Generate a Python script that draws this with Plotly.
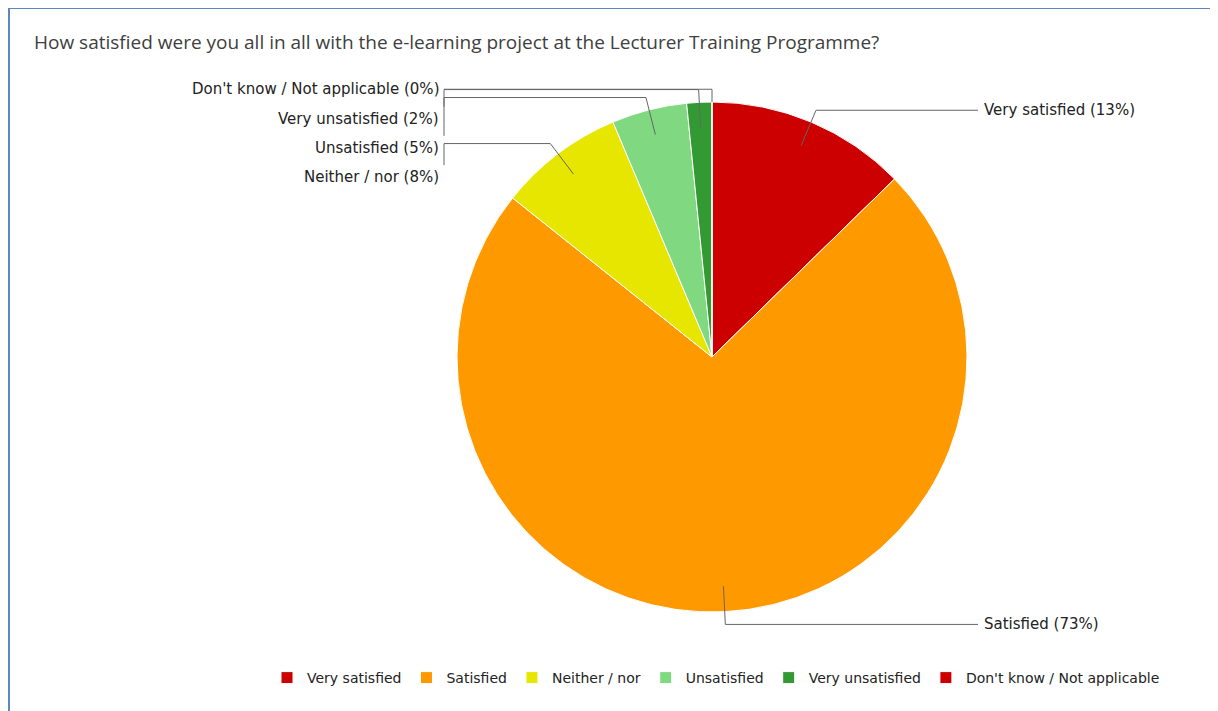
import math
import plotly.graph_objects as go

# ---- data ----
categories = ["Very satisfied", "Satisfied", "Neither / nor", "Unsatisfied",
              "Very unsatisfied", "Don't know / Not applicable"]
counts = [8, 46, 5, 3, 1, 0]
colors = ["#CC0000", "#FF9900", "#E6E600", "#80D980", "#339933", "#CC0000"]
title_text = "How satisfied were you all in all with the e-learning project at the Lecturer Training Programme?"

# ---- layout constants (page pixels) ----
OFF = 8                     # default body margin of the html page
W, H = 1218 - OFF, 711 - OFF
CX, CY, R = 712, 357, 255
LABEL_FONT = dict(family="DejaVu Sans", size=15, color="#222222")
LINE = dict(color="#666666", width=1)

total = sum(counts)

fig = go.Figure()
fig.add_trace(go.Pie(
    labels=categories, values=counts, sort=False, direction="clockwise", rotation=0,
    marker=dict(colors=colors, line=dict(color="white", width=1)),
    textinfo="none", hoverinfo="label+percent",
    domain=dict(x=[(CX - R - OFF) / W, (CX + R - OFF) / W],
                y=[1 - (CY + R - OFF) / H, 1 - (CY - R - OFF) / H]),
    showlegend=True,
))

shapes = []
annotations = []

# frame
shapes.append(dict(type="rect", xref="x", yref="y", x0=9, y0=8, x1=W + 40, y1=H + 40,
                   line=dict(color="#5B87C5", width=2), fillcolor="rgba(0,0,0,0)", layer="below"))

# leader lines & labels
cum = 0
right, left = [], []
for name, v in zip(categories, counts):
    frac_mid = (cum + v / 2) / total
    cum += v
    th = 2 * math.pi * frac_mid
    s, c = math.sin(th), math.cos(th)
    r_in = 0.9 * R if v > 0 else R
    p_in = (CX + r_in * s, CY - r_in * c)
    p_el = (CX + 1.05 * R * s, CY - 1.05 * R * c)
    pct = round(100 * v / total)
    item = dict(text=f"{name} ({pct}%)", p_in=p_in, p_el=p_el)
    (right if frac_mid < 0.5 else left).append(item)

for it in right:
    (x0, y0), (x1, y1) = it["p_in"], it["p_el"]
    shapes.append(dict(type="path", xref="x", yref="y", layer="above", line=LINE,
                       path=f"M{x0},{y0} L{x1},{y1} L978,{y1}"))
    annotations.append(dict(x=982, y=y1, xref="x", yref="y", text=it["text"], showarrow=False,
                            xanchor="left", yanchor="middle", font=LABEL_FONT))

left.sort(key=lambda d: d["p_el"][1])
prev = -1e9
for it in left:
    (x0, y0), (x1, y1) = it["p_in"], it["p_el"]
    ly = max(y1, prev + 29.3)
    prev = ly
    path = f"M{x0},{y0} L{x1},{y1} L444,{y1}"
    if ly - y1 > 12:
        path += f" L444,{ly - 12}"
    shapes.append(dict(type="path", xref="x", yref="y", layer="above", line=LINE, path=path))
    annotations.append(dict(x=441, y=ly, xref="x", yref="y", text=it["text"], showarrow=False,
                            xanchor="right", yanchor="middle", font=LABEL_FONT))

# title
annotations.append(dict(x=32, y=42, xref="x", yref="y", text=title_text, showarrow=False,
                        xanchor="left", yanchor="middle",
                        font=dict(family="Open Sans", size=19, color="#404040")))

fig.update_layout(
    width=W, height=H, margin=dict(l=0, r=0, t=0, b=0),
    paper_bgcolor="white", plot_bgcolor="white",
    xaxis=dict(range=[OFF, OFF + W], visible=False, fixedrange=True),
    yaxis=dict(range=[OFF + H, OFF], visible=False, fixedrange=True),
    shapes=shapes, annotations=annotations,
    legend=dict(orientation="h", x=(716 - OFF) / W, xanchor="center",
                y=1 - (678 - OFF) / H, yanchor="middle",
                font=dict(family="DejaVu Sans", size=14, color="#222222"),
                itemwidth=30, bgcolor="rgba(0,0,0,0)"),
)

fig.write_html("out.html")
